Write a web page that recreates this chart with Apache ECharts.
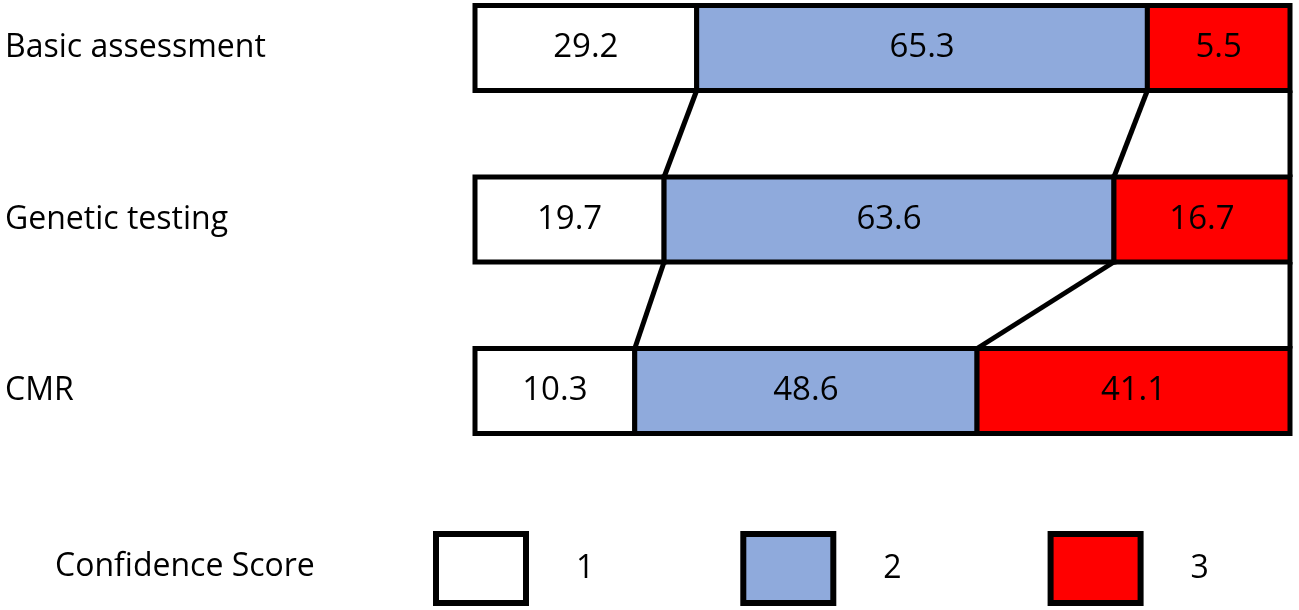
<!DOCTYPE html>
<html>
<head>
<meta charset="utf-8">
<script src="https://cdn.jsdelivr.net/npm/echarts@6/dist/echarts.min.js"></script>
<style>
  html, body { margin: 0; padding: 0; background: #fff; }
  #chart { width: 1299px; height: 610px; }
</style>
</head>
<body>
<div id="chart"></div>
<script>
// categories (top to bottom)
const categories = ['Basic assessment', 'Genetic testing', 'CMR'];
const scoreNames = ['1', '2', '3'];

// values printed inside the segments
const score1Labels = [29.2, 19.7, 10.3];
const score2Labels = [65.3, 63.6, 48.6];
const score3Labels = [5.5, 16.7, 41.1];

// segment lengths as they are drawn in the figure (share of bar, %),
// the original is not drawn to scale of its printed numbers
const score1Drawn = [27.2, 23.2, 19.6];
const score2Drawn = [55.3, 55.2, 42.0];
const score3Drawn = [17.5, 21.6, 38.4];

const colors = ['#FFFFFF', '#8FAADC', '#FF0000'];
const FONT = 'Open Sans';
const BAR_H = 85;
const BORDER = 5;

const chart = echarts.init(document.getElementById('chart'));

const labels = [score1Labels, score2Labels, score3Labels];
const drawn = [score1Drawn, score2Drawn, score3Drawn];

// segment data: [start, end, row, printed value]
const segments = drawn.map(() => []);
// connector lines: [boundary on upper bar, boundary on lower bar, upper row]
const connectors = [];
for (let r = 0; r < categories.length; r++) {
  let cum = 0;
  for (let s = 0; s < drawn.length; s++) {
    segments[s].push([cum, cum + drawn[s][r], r, labels[s][r]]);
    cum += drawn[s][r];
  }
}
for (let r = 0; r < categories.length - 1; r++) {
  let cumTop = 0, cumBottom = 0;
  for (let s = 0; s < drawn.length; s++) {
    cumTop += drawn[s][r];
    cumBottom += drawn[s][r + 1];
    connectors.push([cumTop, cumBottom, r]);
  }
}

// stacked segments, stroke centred on the edges so neighbours share one line
const segmentSeries = scoreNames.map((name, s) => ({
  name: name,
  type: 'custom',
  z: 3,
  encode: { x: [0, 1], y: 2 },
  itemStyle: { color: colors[s], borderColor: '#000', borderWidth: BORDER },
  data: segments[s],
  renderItem: (params, api) => {
    const half = BAR_H / 2;
    const p0 = api.coord([api.value(0), api.value(2)]);
    const p1 = api.coord([api.value(1), api.value(2)]);
    return {
      type: 'rect',
      shape: { x: p0[0], y: p0[1] - half, width: p1[0] - p0[0], height: BAR_H },
      style: { fill: colors[s], stroke: '#000', lineWidth: BORDER },
      textContent: {
        style: {
          text: api.value(3).toFixed(1),
          fill: '#000',
          fontFamily: FONT,
          fontSize: 33
        }
      },
      textConfig: { position: 'inside' }
    };
  }
}));

const option = {
  animation: false,
  title: {
    text: 'Confidence Score',
    left: 55,
    top: 551,
    padding: 0,
    textStyle: { fontFamily: FONT, fontSize: 32, fontWeight: 'normal', color: '#000' }
  },
  legend: {
    data: scoreNames.map((n, s) => ({ name: n, itemStyle: { color: colors[s] } })),
    left: 433,
    top: 531,
    padding: 0,
    itemWidth: 90,
    itemHeight: 69,
    itemGap: 146,
    icon: 'rect',
    selectedMode: false,
    itemStyle: { borderColor: '#000', borderWidth: 6 },
    textStyle: { fontFamily: FONT, fontSize: 32, color: '#000', padding: [0, 0, 0, 45] }
  },
  grid: { left: 475, right: 9, top: 48, bottom: 219 },
  xAxis: {
    type: 'value',
    min: 0,
    max: 100,
    show: false
  },
  yAxis: {
    type: 'category',
    data: categories,
    inverse: true,
    boundaryGap: false,
    axisLine: { show: false },
    axisTick: { show: false },
    splitLine: { show: false },
    axisLabel: {
      align: 'left',
      margin: 470,
      fontFamily: FONT,
      fontSize: 32,
      color: '#000'
    }
  },
  series: segmentSeries.concat([{
    type: 'custom',
    z: 1,
    silent: true,
    encode: { x: [0, 1], y: 2 },
    data: connectors,
    renderItem: (params, api) => {
      const half = BAR_H / 2;
      const p1 = api.coord([api.value(0), api.value(2)]);
      const p2 = api.coord([api.value(1), api.value(2) + 1]);
      return {
        type: 'line',
        shape: { x1: p1[0], y1: p1[1] + half, x2: p2[0], y2: p2[1] - half },
        style: { stroke: '#000', lineWidth: BORDER }
      };
    }
  }])
};

chart.setOption(option);
</script>
</body>
</html>
